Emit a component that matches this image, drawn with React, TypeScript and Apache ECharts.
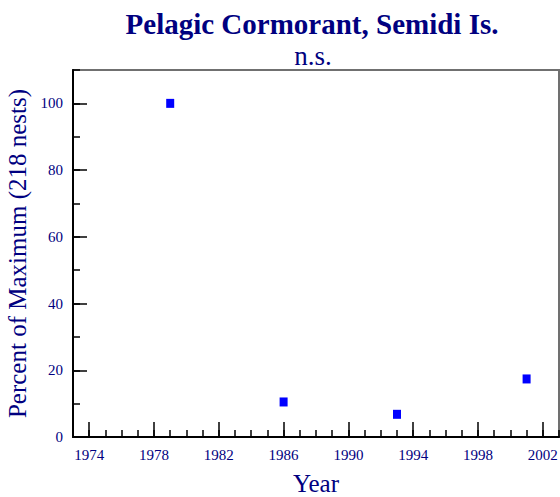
import React, { useEffect, useRef } from "react";
import * as echarts from "echarts";

const years = [1979, 1986, 1993, 2001];
const percentValues = [100, 10.5, 6.8, 17.4];
const xMajorTicks = [1974, 1978, 1982, 1986, 1990, 1994, 1998, 2002];
const yMajorTicks = [0, 20, 40, 60, 80, 100];

const NAVY = "#000080";
const FONT = "'Liberation Serif', 'DejaVu Serif', serif";

export default function App() {
  const ref = useRef<HTMLDivElement>(null);
  useEffect(() => {
    if (!ref.current) return;
    const chart = echarts.init(ref.current, null, { renderer: "svg" });
    const hidden = { show: false };
    const gridBox = { left: 73, right: 1, top: 70, bottom: 60, containLabel: false, outerBoundsMode: "none" };
    chart.setOption({
      animation: false,
      backgroundColor: "#ffffff",
      title: [
        {
          text: "Pelagic Cormorant, Semidi Is.",
          left: 307,
          top: 4,
          textAlign: "center",
          textStyle: { fontFamily: FONT, fontWeight: "bold", fontSize: 29, color: NAVY },
        },
        {
          text: "n.s.",
          left: 308,
          top: 37,
          textAlign: "center",
          textStyle: { fontFamily: FONT, fontWeight: "normal", fontSize: 27, color: NAVY },
        },
      ],
      grid: [
        { ...gridBox, show: true, borderColor: "#707070", borderWidth: 2, backgroundColor: "transparent" },
        { ...gridBox },
      ],
      xAxis: [
        {
          type: "value",
          gridIndex: 0,
          min: 1973,
          max: 2003,
          position: "bottom",
          splitLine: hidden,
          axisLine: { show: true, onZero: false, lineStyle: { color: "#000", width: 2 } },
          axisTick: { show: true, inside: true, length: 15, customValues: xMajorTicks, lineStyle: { color: "#000", width: 1.5 } },
          axisLabel: {
            show: true,
            customValues: xMajorTicks,
            margin: 10,
            color: NAVY,
            fontFamily: FONT,
            fontSize: 15,
            formatter: (v: number) => String(v),
          },
          name: "Year",
          nameLocation: "middle",
          nameGap: 34,
          nameTextStyle: { fontFamily: FONT, fontSize: 25, color: NAVY },
        },
        {
          type: "value",
          gridIndex: 1,
          min: 1973,
          max: 2003,
          interval: 1,
          position: "bottom",
          splitLine: hidden,
          axisLine: { show: false, onZero: false },
          axisTick: { show: true, inside: true, length: 7, lineStyle: { color: "#000", width: 1.5 } },
          axisLabel: hidden,
        },
      ],
      yAxis: [
        {
          type: "value",
          gridIndex: 0,
          min: 0,
          max: 110,
          position: "left",
          splitLine: hidden,
          axisLine: { show: true, onZero: false, lineStyle: { color: "#000", width: 2 } },
          axisTick: { show: true, inside: true, length: 14, customValues: yMajorTicks, lineStyle: { color: "#000", width: 1.5 } },
          axisLabel: {
            show: true,
            customValues: yMajorTicks,
            margin: 10,
            color: NAVY,
            fontFamily: FONT,
            fontSize: 15,
          },
          name: "Percent of Maximum (218 nests)",
          nameLocation: "middle",
          nameGap: 39,
          nameRotate: 90,
          nameTextStyle: { fontFamily: FONT, fontSize: 25, color: NAVY },
        },
        {
          type: "value",
          gridIndex: 1,
          min: 0,
          max: 110,
          interval: 10,
          position: "left",
          splitLine: hidden,
          axisLine: { show: false, onZero: false },
          axisTick: { show: true, inside: true, length: 7, lineStyle: { color: "#000", width: 1.5 } },
          axisLabel: hidden,
        },
      ],
      series: [
        {
          type: "scatter",
          xAxisIndex: 0,
          yAxisIndex: 0,
          symbol: "rect",
          symbolSize: [8, 9],
          itemStyle: { color: "#0000ff", opacity: 1 },
          data: years.map((y, i) => [y, percentValues[i]]),
        },
      ],
    });
    return () => chart.dispose();
  }, []);
  return (
    <div
      ref={ref}
      style={{ position: "fixed", left: 0, top: 0, width: 560, height: 497 }}
    />
  );
}
